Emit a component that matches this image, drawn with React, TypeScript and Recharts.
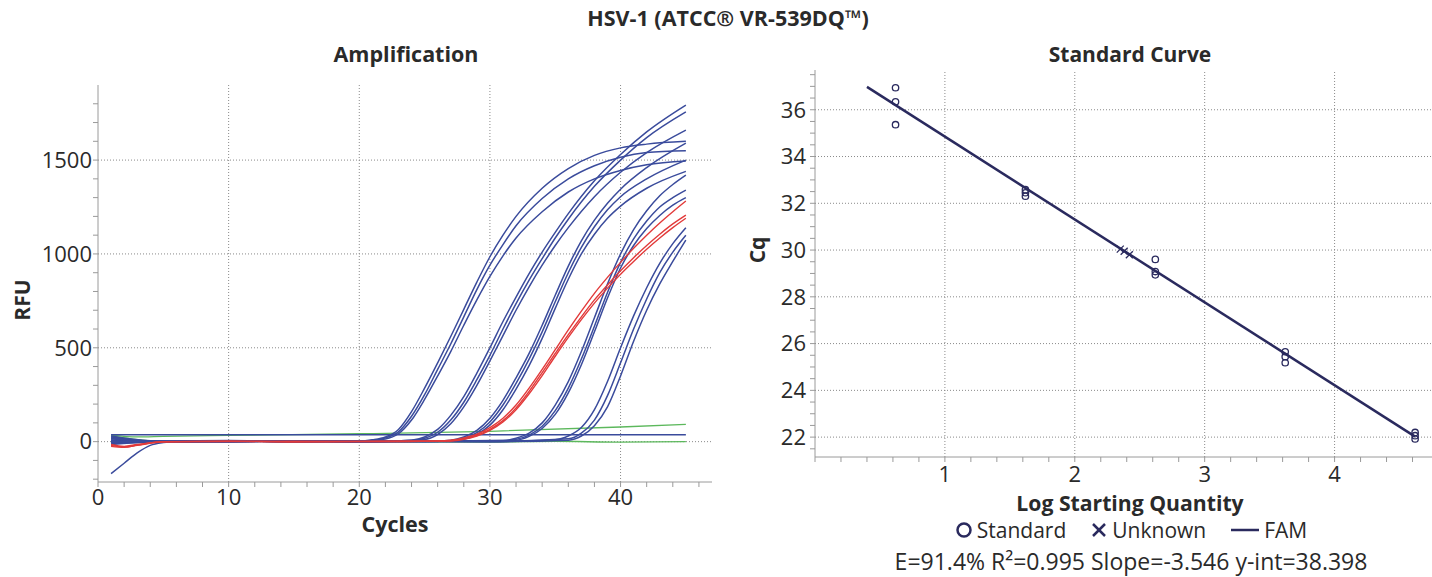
import React from "react";
import { LineChart, Line, XAxis, YAxis, ReferenceLine, ScatterChart, Scatter } from "recharts";

// amplification curves: [cycle, RFU]
const stdA1 = [[1, 25], [3, 8], [5, 0], [10, 5], [15, 0], [20, 3], [21, 10], [22, 25], [23, 65], [24, 160], [25, 285], [26, 420], [27, 560], [28, 705], [29, 850], [30, 985], [31, 1100], [32, 1200], [34, 1350], [36, 1455], [38, 1525], [40, 1565], [42, 1585], [45, 1600]];
const stdA2 = [[1, 10], [3, 0], [5, -3], [10, 4], [15, 2], [20, 0], [21, 6], [22, 20], [23, 52], [24, 135], [25, 250], [26, 385], [27, 520], [28, 665], [29, 810], [30, 940], [31, 1050], [32, 1150], [34, 1295], [36, 1400], [38, 1470], [40, 1515], [42, 1540], [45, 1550]];
const stdA3 = [[1, -10], [3, -5], [5, 0], [10, 6], [15, 0], [20, 2], [22, 14], [23, 42], [24, 115], [25, 225], [26, 350], [27, 480], [28, 620], [29, 755], [30, 880], [31, 990], [32, 1085], [34, 1225], [36, 1330], [38, 1400], [40, 1445], [42, 1475], [45, 1495]];
const stdB1 = [[1, 20], [4, 3], [10, 0], [15, 5], [20, 0], [24, 8], [25, 25], [26, 65], [27, 140], [28, 240], [29, 365], [30, 500], [31, 640], [32, 770], [33, 895], [34, 1010], [35, 1115], [36, 1215], [38, 1390], [40, 1530], [42, 1650], [45, 1793]];
const stdB2 = [[1, 5], [4, 0], [10, 3], [15, 0], [20, 2], [24, 5], [25, 18], [26, 50], [27, 115], [28, 210], [29, 330], [30, 460], [31, 600], [32, 735], [33, 860], [34, 975], [35, 1085], [36, 1185], [38, 1360], [40, 1500], [42, 1620], [45, 1757]];
const stdB3 = [[1, -5], [4, 0], [10, 2], [15, 4], [20, 0], [25, 12], [26, 38], [27, 95], [28, 185], [29, 300], [30, 430], [31, 565], [32, 700], [33, 825], [34, 940], [35, 1045], [36, 1140], [38, 1305], [40, 1435], [42, 1540], [45, 1660]];
const stdC1 = [[1, 15], [4, 0], [10, 4], [15, 0], [20, 3], [25, 0], [27, 8], [28, 25], [29, 60], [30, 125], [31, 220], [32, 340], [33, 470], [34, 620], [35, 780], [36, 935], [37, 1070], [38, 1180], [39, 1270], [40, 1345], [42, 1460], [45, 1590]];
const stdC2 = [[1, 0], [4, -3], [10, 2], [15, 5], [20, 0], [27, 5], [28, 18], [29, 48], [30, 105], [31, 195], [32, 310], [33, 440], [34, 585], [35, 745], [36, 900], [37, 1035], [38, 1145], [39, 1235], [40, 1305], [42, 1400], [45, 1500]];
const stdC3 = [[1, -15], [4, -2], [10, 0], [15, 3], [20, 2], [27, 3], [28, 12], [29, 38], [30, 88], [31, 170], [32, 280], [33, 405], [34, 550], [35, 710], [36, 865], [37, 1000], [38, 1105], [39, 1190], [40, 1255], [42, 1350], [45, 1440]];
const stdD1 = [[1, 30], [4, 5], [10, 0], [15, 4], [20, 0], [25, 3], [31, 5], [32, 18], [33, 45], [34, 100], [35, 195], [36, 320], [37, 480], [38, 660], [39, 840], [40, 1000], [41, 1130], [42, 1230], [43, 1310], [44, 1370], [45, 1420]];
const stdD2 = [[1, 5], [4, 0], [10, 3], [15, 0], [20, 2], [31, 3], [32, 12], [33, 35], [34, 82], [35, 165], [36, 285], [37, 440], [38, 615], [39, 795], [40, 955], [41, 1080], [42, 1175], [43, 1250], [44, 1300], [45, 1340]];
const stdD3 = [[1, -5], [4, 2], [10, 0], [15, 2], [20, 0], [32, 8], [33, 28], [34, 70], [35, 145], [36, 260], [37, 410], [38, 585], [39, 765], [40, 925], [41, 1045], [42, 1135], [43, 1205], [44, 1260], [45, 1300]];
const stdE1 = [[1, 20], [4, 0], [10, 5], [15, 0], [20, 3], [30, 0], [35, 10], [36, 30], [37, 75], [38, 170], [39, 320], [40, 500], [41, 670], [42, 820], [43, 950], [44, 1055], [45, 1140]];
const stdE2 = [[1, 0], [4, 2], [10, 0], [15, 3], [20, 0], [30, 2], [36, 15], [37, 45], [38, 115], [39, 245], [40, 420], [41, 600], [42, 760], [43, 900], [44, 1010], [45, 1100]];
const stdE3 = [[1, -170], [2, -115], [3, -60], [4, -20], [5, -5], [6, 0], [10, 3], [15, 0], [20, 2], [30, 0], [36, 8], [37, 30], [38, 85], [39, 185], [40, 350], [41, 535], [42, 700], [43, 840], [44, 960], [45, 1074]];
const unk1 = [[1, -20], [2, -28], [3, -20], [5, 0], [10, 3], [15, -2], [20, 0], [25, 2], [27, 8], [28, 20], [29, 40], [30, 75], [31, 125], [32, 195], [33, 285], [34, 385], [35, 490], [36, 595], [37, 695], [38, 790], [39, 875], [40, 955], [41, 1030], [42, 1100], [43, 1165], [44, 1225], [45, 1282]];
const unk2 = [[1, -25], [2, -30], [3, -18], [5, 0], [10, 0], [15, 3], [20, 0], [27, 5], [28, 15], [29, 33], [30, 65], [31, 112], [32, 180], [33, 268], [34, 368], [35, 470], [36, 570], [37, 665], [38, 755], [39, 835], [40, 910], [41, 980], [42, 1045], [43, 1105], [44, 1160], [45, 1207]];
const unk3 = [[1, -15], [2, -25], [3, -15], [5, -2], [10, 2], [15, 0], [20, 2], [27, 3], [28, 12], [29, 30], [30, 60], [31, 105], [32, 170], [33, 255], [34, 352], [35, 455], [36, 555], [37, 650], [38, 738], [39, 818], [40, 892], [41, 960], [42, 1025], [43, 1085], [44, 1140], [45, 1190]];
const flatBlue = [[1, 37], [45, 37]];
const ntcUp = [[1, 35], [3, 25], [5, 28], [10, 33], [20, 42], [30, 55], [40, 78], [45, 92]];
const ntcLow = [[1, 30], [3, 10], [5, 0], [10, 3], [20, 0], [30, -2], [35, 2], [40, -3], [45, 0]];

const blueCurves = [stdA1, stdA2, stdA3, stdB1, stdB2, stdB3, stdC1, stdC2, stdC3, stdD1, stdD2, stdD3, stdE1, stdE2, stdE3, flatBlue];
const redCurves = [unk1, unk2, unk3];
const greenCurves = [ntcUp, ntcLow];

// standard curve: [log quantity, Cq]
const standards = [
  [0.62, 36.94], [0.62, 36.34], [0.62, 35.36],
  [1.62, 32.58], [1.62, 32.45], [1.62, 32.3],
  [2.62, 29.6], [2.62, 29.08], [2.62, 28.94],
  [3.62, 25.65], [3.62, 25.44], [3.62, 25.18],
  [4.62, 22.2], [4.62, 22.06], [4.62, 21.92],
];
const unknowns = [[2.35, 30.04], [2.38, 29.95], [2.42, 29.8]];
const fitLine = [[0.4, 36.98], [4.62, 22.02]];

const ampXTicks = [0, 2, 4, 6, 8, 10, 12, 14, 16, 18, 20, 22, 24, 26, 28, 30, 32, 34, 36, 38, 40, 42, 44, 46];
const ampXLabels = [0, 10, 20, 30, 40];
const ampYTicks = [-200, -100, 0, 100, 200, 300, 400, 500, 600, 700, 800, 900, 1000, 1100, 1200, 1300, 1400, 1500, 1600, 1700, 1800];
const ampYLabels = [0, 500, 1000, 1500];
const scX = [0, 0.2, 0.4, 0.6, 0.8, 1, 1.2, 1.4, 1.6, 1.8, 2, 2.2, 2.4, 2.6, 2.8, 3, 3.2, 3.4, 3.6, 3.8, 4, 4.2, 4.4, 4.6];
const scXLabels = [1, 2, 3, 4];
const scY = [21.5, 22, 22.5, 23, 23.5, 24, 24.5, 25, 25.5, 26, 26.5, 27, 27.5, 28, 28.5, 29, 29.5, 30, 30.5, 31, 31.5, 32, 32.5, 33, 33.5, 34, 34.5, 35, 35.5, 36, 36.5, 37, 37.5];
const scYLabels = [22, 24, 26, 28, 30, 32, 34, 36];

const FONT = "'Open Sans', sans-serif";
const BLUE = "#3a4b9c";
const RED = "#e23a3a";
const GREEN = "#5cb85c";
const NAVY = "#2a2a5e";
const AXIS = "#9a9a9a";
const GRID = "#8a8a8a";
const TXT = "#2a2a2a";

const pts = (arr: number[][]) => arr.map(([c, r]) => ({ c, r }));
const xy = (arr: number[][]) => arr.map(([x, y]) => ({ x, y }));
const onlyIn = (list: number[]) => (v: number) => (list.some((l) => Math.abs(l - v) < 1e-6) ? String(v) : "");

const tickStyle = { fill: TXT, fontSize: 22, fontFamily: FONT, fontWeight: 500 };

const Txt = ({ cx, cy, w, h, size, bold, rotate, children }: any) => (
  <div
    style={{
      position: "absolute",
      left: cx - w / 2,
      top: cy - h / 2,
      width: w,
      height: h,
      lineHeight: `${h}px`,
      textAlign: "center",
      fontFamily: FONT,
      fontSize: size,
      fontWeight: bold ? 700 : 400,
      color: TXT,
      whiteSpace: "nowrap",
      transform: rotate ? "rotate(-90deg)" : undefined,
    }}
  >
    {children}
  </div>
);

const Circle = (p: any) => <circle cx={p.cx} cy={p.cy} r={3.2} fill="none" stroke={NAVY} strokeWidth={1.3} />;
const Cross = (p: any) => (
  <g stroke={NAVY} strokeWidth={1.3}>
    <line x1={p.cx - 3.5} y1={p.cy - 3.5} x2={p.cx + 3.5} y2={p.cy + 3.5} />
    <line x1={p.cx - 3.5} y1={p.cy + 3.5} x2={p.cx + 3.5} y2={p.cy - 3.5} />
  </g>
);
const NoDot = () => <g />;

const AmplificationChart = () => (
  <LineChart width={730} height={545} margin={{ top: 85, right: 18, bottom: 0, left: 0 }}>
    <XAxis
      type="number"
      dataKey="c"
      domain={[0, 47]}
      ticks={ampXTicks}
      tickFormatter={onlyIn(ampXLabels)}
      allowDataOverflow
      height={63}
      stroke={AXIS}
      tickSize={5}
      tickMargin={2}
      tick={tickStyle}
      interval={0}
    />
    <YAxis
      type="number"
      domain={[-215, 1900]}
      ticks={ampYTicks}
      tickFormatter={onlyIn(ampYLabels)}
      allowDataOverflow
      width={98}
      stroke={AXIS}
      tickSize={5}
      tickMargin={1}
      tick={tickStyle}
      interval={0}
    />
    {ampXLabels.slice(1).map((v) => (
      <ReferenceLine key={"x" + v} x={v} stroke={GRID} strokeDasharray="1 2" />
    ))}
    {ampYLabels.map((v) => (
      <ReferenceLine key={"y" + v} y={v} stroke={GRID} strokeDasharray="1 2" />
    ))}
    {greenCurves.map((d, i) => (
      <Line key={"g" + i} data={pts(d)} dataKey="r" type="monotone" stroke={GREEN} strokeWidth={1.3} dot={false} isAnimationActive={false} />
    ))}
    {blueCurves.map((d, i) => (
      <Line key={"b" + i} data={pts(d)} dataKey="r" type="monotone" stroke={BLUE} strokeWidth={1.5} dot={false} isAnimationActive={false} />
    ))}
    {redCurves.map((d, i) => (
      <Line key={"r" + i} data={pts(d)} dataKey="r" type="monotone" stroke={RED} strokeWidth={1.4} dot={false} isAnimationActive={false} />
    ))}
  </LineChart>
);

const StandardCurveChart = () => (
  <ScatterChart width={712} height={490} margin={{ top: 70, right: 0, bottom: 0, left: 0 }}>
    <XAxis
      type="number"
      dataKey="x"
      domain={[0, 4.75]}
      ticks={scX}
      tickFormatter={onlyIn(scXLabels)}
      allowDataOverflow
      height={33}
      stroke={AXIS}
      tickSize={5}
      tickMargin={4}
      tick={tickStyle}
      interval={0}
    />
    <YAxis
      type="number"
      dataKey="y"
      domain={[21.15, 37.7]}
      ticks={scY}
      tickFormatter={onlyIn(scYLabels)}
      allowDataOverflow
      width={95}
      stroke={AXIS}
      tickSize={5}
      tickMargin={4}
      tick={tickStyle}
      interval={0}
    />
    {scXLabels.map((v) => (
      <ReferenceLine key={"x" + v} x={v} stroke={GRID} strokeDasharray="1 2" />
    ))}
    {scYLabels.map((v) => (
      <ReferenceLine key={"y" + v} y={v} stroke={GRID} strokeDasharray="1 2" />
    ))}
    <Scatter data={xy(fitLine)} line={{ stroke: NAVY, strokeWidth: 2.5 }} shape={NoDot} isAnimationActive={false} />
    <Scatter data={xy(standards)} shape={Circle} isAnimationActive={false} />
    <Scatter data={xy(unknowns)} shape={Cross} isAnimationActive={false} />
  </ScatterChart>
);

export default function App() {
  return (
    <div style={{ position: "relative", width: 1432, height: 577, background: "#fff", overflow: "hidden" }}>
      <style>{`body{margin:0}`}</style>
      <div style={{ position: "absolute", left: 0, top: 0 }}>
        <AmplificationChart />
      </div>
      <div style={{ position: "absolute", left: 720, top: 0 }}>
        <StandardCurveChart />
      </div>
      <Txt cx={728} cy={18} w={500} h={28} size={21.5} bold>
        HSV-1 (ATCC® VR-539DQ™)
      </Txt>
      <Txt cx={406} cy={54} w={300} h={28} size={21.5} bold>
        Amplification
      </Txt>
      <Txt cx={1130} cy={54} w={300} h={28} size={21} bold>
        Standard Curve
      </Txt>
      <Txt cx={395} cy={524} w={200} h={28} size={21.5} bold>
        Cycles
      </Txt>
      <Txt cx={22} cy={300} w={80} h={28} size={21} bold rotate>
        RFU
      </Txt>
      <Txt cx={757} cy={250} w={60} h={28} size={21} bold rotate>
        Cq
      </Txt>
      <Txt cx={1130} cy={503} w={400} h={28} size={21.2} bold>
        Log Starting Quantity
      </Txt>
      <div
        style={{
          position: "absolute",
          left: 831,
          top: 516,
          width: 600,
          height: 28,
          display: "flex",
          justifyContent: "center",
          alignItems: "center",
          fontFamily: FONT,
          fontSize: 21,
          color: TXT,
          whiteSpace: "nowrap",
        }}
      >
        <svg width={18} height={18} style={{ marginRight: 4 }}>
          <circle cx={9} cy={9} r={6.5} fill="none" stroke={NAVY} strokeWidth={2.5} />
        </svg>
        <span>Standard</span>
        <svg width={18} height={18} style={{ marginLeft: 24, marginRight: 4 }}>
          <g stroke={NAVY} strokeWidth={2.5}>
            <line x1={3} y1={3} x2={15} y2={15} />
            <line x1={3} y1={15} x2={15} y2={3} />
          </g>
        </svg>
        <span>Unknown</span>
        <svg width={30} height={18} style={{ marginLeft: 24, marginRight: 4 }}>
          <line x1={1} y1={9} x2={29} y2={9} stroke={NAVY} strokeWidth={2.5} />
        </svg>
        <span>FAM</span>
      </div>
      <Txt cx={1131} cy={561} w={600} h={28} size={23}>
        E=91.4% R²=0.995 Slope=-3.546 y-int=38.398
      </Txt>
    </div>
  );
}
